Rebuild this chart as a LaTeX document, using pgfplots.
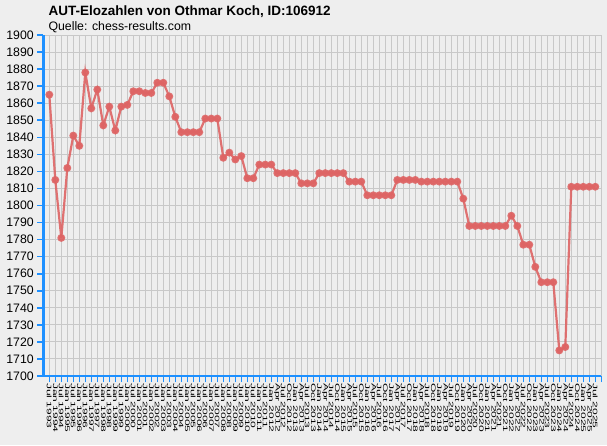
\documentclass[border=0pt]{standalone}
\usepackage{pgfplots}
\pgfplotsset{compat=1.18}
\usepackage{fontspec}
\setmainfont{Liberation Sans}
\usepackage{graphicx}

\definecolor{bgcol}{RGB}{238,238,238}
\definecolor{gridcol}{RGB}{200,200,200}
\definecolor{axiscol}{RGB}{30,144,255}
\definecolor{elocol}{RGB}{222,100,100}

% stretched tick label text, like the tiny pixel font of the original
\newcommand{\s}[1]{\scalebox{1.85}[1]{#1}}

\pgfplotstableread{
idx elo
0 1865
1 1815
2 1781
3 1822
4 1841
5 1835
6 1878
7 1857
8 1868
9 1847
10 1858
11 1844
12 1858
13 1859
14 1867
15 1867
16 1866
17 1866
18 1872
19 1872
20 1864
21 1852
22 1843
23 1843
24 1843
25 1843
26 1851
27 1851
28 1851
29 1828
30 1831
31 1827
32 1829
33 1816
34 1816
35 1824
36 1824
37 1824
38 1819
39 1819
40 1819
41 1819
42 1813
43 1813
44 1813
45 1819
46 1819
47 1819
48 1819
49 1819
50 1814
51 1814
52 1814
53 1806
54 1806
55 1806
56 1806
57 1806
58 1815
59 1815
60 1815
61 1815
62 1814
63 1814
64 1814
65 1814
66 1814
67 1814
68 1814
69 1804
70 1788
71 1788
72 1788
73 1788
74 1788
75 1788
76 1788
77 1794
78 1788
79 1777
80 1777
81 1764
82 1755
83 1755
84 1755
85 1715
86 1717
87 1811
88 1811
89 1811
90 1811
91 1811
}\elo

\begin{document}
\begin{tikzpicture}[x=1pt,y=1pt]
\fill[bgcol] (0,0) rectangle (607,445);
\node[anchor=base west,font=\bfseries\fontsize{13.5}{16}\selectfont] at (45,429)
  {AUT-Elozahlen von Othmar Koch, ID:106912};
\node[anchor=base west,font=\fontsize{12.3}{14}\selectfont] at (45,414)
  {Quelle: chess-results.com};
\begin{axis}[
    at={(43.3pt,69pt)},
    anchor=south west,
    scale only axis,
    width=558pt,
    height=341pt,
    xmin=-1, xmax=92,
    ymin=1700, ymax=1900,
    ytick={1700,1710,...,1900},
    xtick={0,...,92},
    xticklabels={\s{Jul 1993},\s{Jan 1994},\s{Jul 1994},\s{Jan 1995},\s{Jul 1995},\s{Jan 1996},\s{Jul 1996},\s{Jan 1997},\s{Jul 1997},\s{Jan 1998},\s{Jul 1998},\s{Jan 1999},\s{Jul 1999},\s{Jan 2000},\s{Jul 2000},\s{Jan 2001},\s{Jul 2001},\s{Jan 2002},\s{Jul 2002},\s{Jan 2003},\s{Jul 2003},\s{Jan 2004},\s{Jul 2004},\s{Jan 2005},\s{Jul 2005},\s{Jan 2006},\s{Jul 2006},\s{Jan 2007},\s{Jul 2007},\s{Jan 2008},\s{Jul 2008},\s{Jan 2009},\s{Jul 2009},\s{Jan 2010},\s{Jul 2010},\s{Jan 2011},\s{Jul 2011},
      \s{Jan 2012},\s{Apr 2012},\s{Jul 2012},\s{Oct 2012},\s{Jan 2013},\s{Apr 2013},\s{Jul 2013},\s{Oct 2013},\s{Jan 2014},\s{Apr 2014},\s{Jul 2014},\s{Oct 2014},\s{Jan 2015},\s{Apr 2015},\s{Jul 2015},\s{Oct 2015},\s{Jan 2016},\s{Apr 2016},\s{Jul 2016},\s{Oct 2016},\s{Jan 2017},\s{Apr 2017},\s{Jul 2017},\s{Oct 2017},\s{Jan 2018},\s{Apr 2018},\s{Jul 2018},\s{Oct 2018},\s{Jan 2019},\s{Apr 2019},\s{Jul 2019},\s{Oct 2019},\s{Jan 2020},\s{Apr 2020},\s{Jul 2020},\s{Oct 2020},\s{Jan 2021},\s{Apr 2021},\s{Jul 2021},\s{Oct 2021},\s{Jan 2022},\s{Apr 2022},\s{Jul 2022},\s{Oct 2022},\s{Jan 2023},\s{Apr 2023},\s{Jul 2023},\s{Oct 2023},\s{Jan 2024},\s{Apr 2024},\s{Jul 2024},\s{Oct 2024},\s{Jan 2025},\s{Apr 2025},\s{Jul 2025},{}},
    xticklabel style={rotate=-90,anchor=west,font=\fontsize{6.5}{7}\selectfont,inner sep=1pt},
    yticklabel style={font=\fontsize{12.3}{14}\selectfont},
    /pgf/number format/assume math mode=true,
    /pgf/number format/1000 sep={},
    axis lines*=left,
    axis line style={axiscol,line width=2.4pt},
    tick align=outside,
    major tick length=6pt,
    tick style={axiscol,line width=1.6pt},
    grid=major,
    major grid style={gridcol,line width=1pt},
    clip=false,
  ]
  \addplot[elocol,opacity=0.9,line width=2.2pt,mark=*,mark size=2.8pt,
    mark options={fill=elocol}] table[x=idx,y=elo] {\elo};
\end{axis}
\end{tikzpicture}
\end{document}
